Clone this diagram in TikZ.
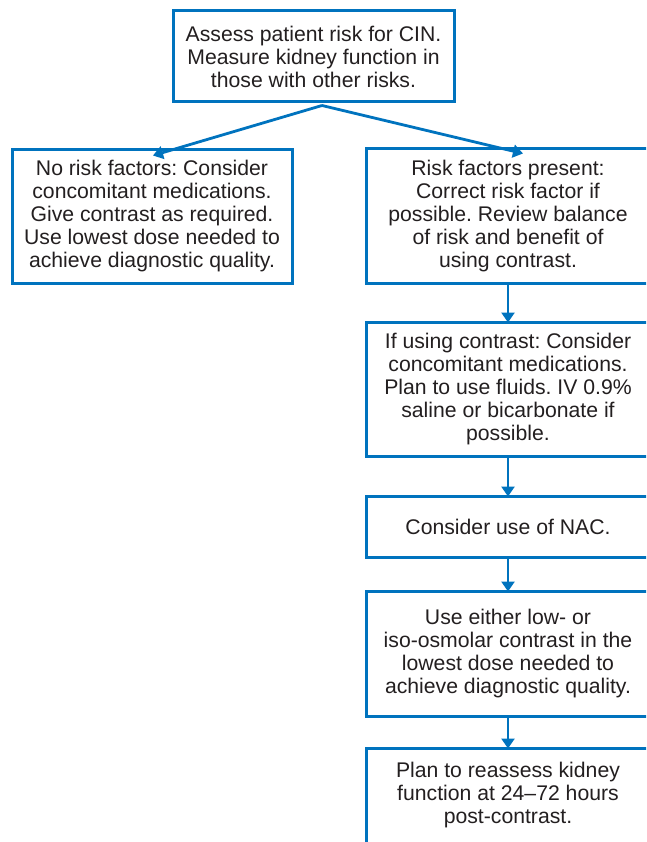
\documentclass[tikz,border=0pt]{standalone}
\usepackage{fontspec}
\setmainfont{Liberation Sans}
\usetikzlibrary{arrows.meta}
\definecolor{flowblue}{RGB}{0,115,190}
\definecolor{inkgray}{RGB}{35,31,32}
\tikzset{
  stepbox/.style={draw=flowblue, line width=3pt, fill=white, inner sep=0pt,
    align=center, text=inkgray, font=\fontsize{21.2}{23}\selectfont\frenchspacing},
  flowarrow/.style={draw=flowblue, line width=2.8pt,
    -{Triangle[length=10pt,width=13pt]}}
}
\begin{document}
\begin{tikzpicture}[x=1pt,y=-1pt]
  \useasboundingbox (0,0) rectangle (646,842);
  \begin{scope}
    \clip (0,0) rectangle (646,842);
    % entry step
    \node[stepbox, minimum width=281pt, minimum height=91pt] (assess) at (313.5,56.5)
      {Assess patient risk for CIN.\\Measure kidney function in\\those with other risks.};
    % branch without risk factors
    \node[stepbox, minimum width=280pt, minimum height=133pt] (norisk) at (152,216.5)
      {No risk factors: Consider\\concomitant medications.\\Give contrast as required.\\Use lowest dose needed to\\achieve diagnostic quality.};
    % branch with risk factors
    \node[stepbox, minimum width=284pt, minimum height=134pt] (risk) at (508,216)
      {Risk factors present:\\Correct risk factor if\\possible. Review balance\\of risk and benefit of\\using contrast.};
    \node[stepbox, minimum width=284pt, minimum height=134pt] (fluids) at (508,389)
      {If using contrast: Consider\\concomitant medications.\\Plan to use fluids. IV 0.9\%\\saline or bicarbonate if\\possible.};
    \node[stepbox, minimum width=284pt, minimum height=61pt] (nac) at (508,526.5)
      {Consider use of NAC.};
    \node[stepbox, minimum width=284pt, minimum height=125pt] (agent) at (508,653.5)
      {Use either low- or\\iso-osmolar contrast in the\\lowest dose needed to\\achieve diagnostic quality.};
    \node[stepbox, minimum width=284pt, minimum height=95pt] (recheck) at (508,795.5)
      {Plan to reassess kidney\\function at 24--72 hours\\post-contrast.};

    % connectors
    \coordinate (fork) at ([xshift=8.5pt,yshift=-2pt]assess.south);
    \draw[flowarrow] (fork) -- ([xshift=1pt,yshift=-7pt]norisk.north);
    \draw[flowarrow] (fork) -- ([xshift=15pt,yshift=-6pt]risk.north);
    \draw[flowarrow] (risk.south) -- ([yshift=-2pt]fluids.north);
    \draw[flowarrow] (fluids.south) -- ([yshift=-2pt]nac.north);
    \draw[flowarrow] (nac.south) -- ([yshift=-2pt]agent.north);
    \draw[flowarrow] (agent.south) -- ([yshift=-2pt]recheck.north);
  \end{scope}
\end{tikzpicture}
\end{document}
